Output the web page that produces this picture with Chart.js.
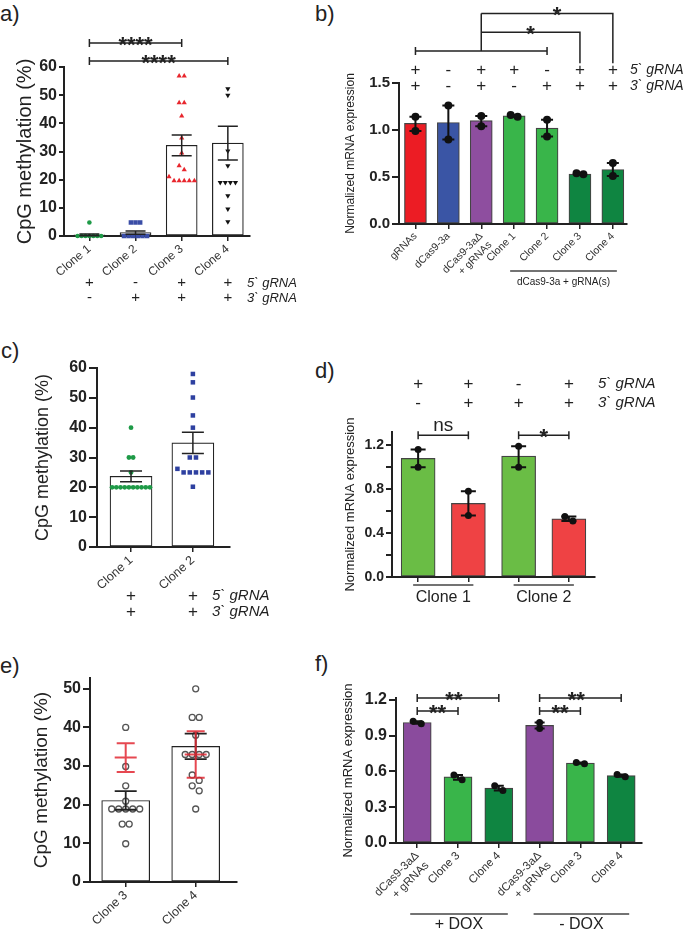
<!DOCTYPE html>
<html>
<head>
<meta charset="utf-8">
<script src="https://cdn.jsdelivr.net/npm/chart.js@4.4.1/dist/chart.umd.min.js"></script>
<style>
  html, body { margin: 0; padding: 0; background: #fff; }
  body { width: 683px; height: 933px; position: relative; overflow: hidden; font-family: "Liberation Sans", Arial, sans-serif; }
  canvas { position: absolute; }
  .tag { position: absolute; font-size: 22px; line-height: 22px; color: #222; }
</style>
</head>
<body>
<div class="tag" style="left:0px;top:3px">a)</div>
<div class="tag" style="left:315px;top:3px">b)</div>
<div class="tag" style="left:1px;top:340px">c)</div>
<div class="tag" style="left:315px;top:360px">d)</div>
<div class="tag" style="left:0px;top:655px">e)</div>
<div class="tag" style="left:315px;top:653px">f)</div>

<canvas id="chartA" width="315" height="310" style="left:0px;top:0px"></canvas>
<canvas id="chartB" width="343" height="310" style="left:340px;top:0px"></canvas>
<canvas id="chartC" width="315" height="310" style="left:0px;top:310px"></canvas>
<canvas id="chartD" width="343" height="310" style="left:340px;top:310px"></canvas>
<canvas id="chartE" width="315" height="313" style="left:0px;top:620px"></canvas>
<canvas id="chartF" width="343" height="313" style="left:340px;top:620px"></canvas>

<script>
const FONT = '"Liberation Sans", Arial, sans-serif';
Chart.defaults.font.family = FONT;
Chart.defaults.color = '#222';

// ---- panel a: CpG methylation, clones 1-4 ----
const aLabels = ['Clone 1', 'Clone 2', 'Clone 3', 'Clone 4'];
const aMeans = [0.4, 1.2, 32.2, 33.0];
const aSem = [0.3, 0.6, 3.7, 6.0];
const aClone1 = [4.8, 0, 0, 0, 0, 0, 0, 0];
const aClone2 = [4.8, 4.8, 4.8, 0, 0, 0, 0, 0, 0];
const aClone3 = [56.8, 56.8, 47.3, 47.3, 42.6, 34.8, 29.5, 24.9, 23.5, 21.0, 19.6, 19.6, 19.6, 19.6, 19.6];
const aClone4 = [52.3, 50.0, 30.2, 24.9, 19.0, 19.0, 19.0, 19.0, 14.3, 9.6, 5.1];
const a5gRNA = ['+', '-', '+', '+'];
const a3gRNA = ['-', '+', '+', '+'];

// ---- panel b: normalized mRNA expression ----
const bLabels = ['gRNAs', 'dCas9-3a', ['dCas9-3aΔ', '+ gRNAs'], 'Clone 1', 'Clone 2', 'Clone 3', 'Clone 4'];
const bMeans = [1.07, 1.08, 1.10, 1.15, 1.02, 0.53, 0.58];
const bRep1 = [1.14, 1.26, 1.15, 1.14, 1.11, 0.53, 0.65];
const bRep2 = [0.99, 0.90, 1.04, 1.16, 0.93, 0.54, 0.51];
const b5gRNA = ['+', '-', '+', '+', '-', '+', '+'];
const b3gRNA = ['+', '-', '+', '-', '+', '+', '+'];

// ---- panel c: CpG methylation, clones 1-2 ----
const cLabels = ['Clone 1', 'Clone 2'];
const cMeans = [23.7, 34.9];
const cSem = [1.8, 3.6];
const cClone1 = [40, 30, 30, 25, 20, 20, 20, 20, 20, 20, 20, 20, 20, 20];
const cClone2 = [58, 55.2, 50.1, 44.1, 40, 30, 30, 26.2, 25, 25, 25, 25, 25, 20.2];
const c5gRNA = ['+', '+'];
const c3gRNA = ['+', '+'];

// ---- panel d: normalized mRNA expression, clones 1-2 ----
const dLabels = ['', '', '', ''];
const dMeans = [1.08, 0.67, 1.10, 0.53];
const dRep1 = [1.16, 0.78, 1.19, 0.55];
const dRep2 = [1.00, 0.56, 1.00, 0.51];
const d5gRNA = ['+', '+', '-', '+'];
const d3gRNA = ['-', '+', '+', '+'];

// ---- panel e: CpG methylation, clones 3-4 ----
const eLabels = ['Clone 3', 'Clone 4'];
const eMeans = [21.1, 35.1];
const eSem = [2.4, 3.3];
const eRefMeans = [32.2, 33.0];
const eRefSem = [3.7, 6.0];
const eClone3 = [40, 29.9, 24.9, 20.9, 18.9, 18.9, 18.9, 18.9, 18.9, 15, 15, 9.9];
const eClone4 = [50, 42.6, 42.6, 38, 33, 33, 33, 33, 27.7, 26.3, 24.9, 23.6, 18.9];

// ---- panel f: expression with / without DOX ----
const fLabels = [['dCas9-3aΔ', '+ gRNAs'], 'Clone 3', 'Clone 4', ['dCas9-3aΔ', '+ gRNAs'], 'Clone 3', 'Clone 4'];
const fMeans = [1.01, 0.555, 0.46, 0.985, 0.67, 0.565];
const fRep1 = [1.02, 0.57, 0.48, 1.01, 0.675, 0.575];
const fRep2 = [1.00, 0.53, 0.44, 0.96, 0.665, 0.555];

const gRNANames = ['5` gRNA', '3` gRNA'];

/**
 * Place equal-ish values side by side around a category centre
 */
function spread(values, center, step, tol) {
    const sorted = [...values].sort((p, q) => q - p);
    const groups = [];
    sorted.forEach(v => {
        const g = groups[groups.length - 1];
        if (g && g[0] - v <= tol) g.push(v); else groups.push([v]);
    });
    const pts = [];
    groups.forEach(g => g.forEach((v, k) => pts.push({ x: center + (k - (g.length - 1) / 2) * step, y: v })));
    return pts;
}

function bars(means, colors, border, thickness) {
    return {
        type: 'bar',
        data: means.map((m, i) => ({ x: i, y: m })),
        backgroundColor: colors,
        borderColor: border,
        borderWidth: 1.2,
        borderSkipped: false,
        barThickness: thickness,
        order: 2
    };
}

function dots(points, style) {
    return Object.assign({
        type: 'scatter',
        data: points,
        clip: false,
        order: 1,
        pointBorderWidth: 0
    }, style);
}

function pairDots(rep1, rep2, step, tol, radius) {
    const pts = [];
    rep1.forEach((v, i) => pts.push(...spread([v, rep2[i]], i, step, tol)));
    return dots(pts, { pointStyle: 'circle', pointRadius: radius, pointBackgroundColor: '#111', pointBorderColor: '#111' });
}

// draws error bars, significance brackets, gRNA sign rows and group labels
const panelExtras = {
    id: 'panelExtras',
    afterDatasetsDraw(chart, args, opts) {
        const ctx = chart.ctx, xs = chart.scales.x, ys = chart.scales.y;
        (opts.errors || []).forEach(e => {
            ctx.save();
            ctx.strokeStyle = e.color;
            ctx.lineWidth = e.width;
            e.lo.forEach((lo, i) => {
                const x = xs.getPixelForValue(i);
                const yl = ys.getPixelForValue(lo), yh = ys.getPixelForValue(e.hi[i]);
                ctx.beginPath();
                ctx.moveTo(x, yl); ctx.lineTo(x, yh);
                ctx.moveTo(x - e.cap / 2, yl); ctx.lineTo(x + e.cap / 2, yl);
                ctx.moveTo(x - e.cap / 2, yh); ctx.lineTo(x + e.cap / 2, yh);
                if (e.mid) {
                    const ym = ys.getPixelForValue(e.mid[i]);
                    ctx.moveTo(x - e.midW / 2, ym); ctx.lineTo(x + e.midW / 2, ym);
                }
                ctx.stroke();
            });
            ctx.restore();
        });
    },
    afterDraw(chart, args, opts) {
        const ctx = chart.ctx, xs = chart.scales.x, ys = chart.scales.y, area = chart.chartArea;
        ctx.save();
        ctx.strokeStyle = '#222';
        ctx.fillStyle = '#222';
        ctx.lineWidth = 1.5;

        (opts.brackets || []).forEach(b => {
            const x1 = xs.getPixelForValue(b.from), x2 = xs.getPixelForValue(b.to), y = ys.getPixelForValue(b.at);
            ctx.beginPath();
            ctx.moveTo(x1, y); ctx.lineTo(x2, y);
            ctx.moveTo(x1, y - 4); ctx.lineTo(x1, y + 4);
            ctx.moveTo(x2, y - 4); ctx.lineTo(x2, y + 4);
            ctx.stroke();
        });

        (opts.paths || []).forEach(p => {
            ctx.beginPath();
            p.forEach(([xv, yv], k) => {
                const px = xs.getPixelForValue(xv), py = ys.getPixelForValue(yv);
                if (k === 0) ctx.moveTo(px, py); else ctx.lineTo(px, py);
            });
            ctx.stroke();
        });

        (opts.notes || []).forEach(n => {
            ctx.font = n.font;
            ctx.letterSpacing = n.spacing || '0px';
            ctx.textAlign = 'center';
            ctx.textBaseline = 'alphabetic';
            ctx.fillText(n.text, xs.getPixelForValue(n.x), ys.getPixelForValue(n.y) + n.dy);
        });
        ctx.letterSpacing = '0px';

        if (opts.signs) {
            const s = opts.signs;
            const base = s.anchor === 'top' ? area.top : area.bottom;
            ctx.textBaseline = 'middle';
            s.rows.forEach((row, r) => {
                const y = base + s.dy[r];
                ctx.font = s.font;
                ctx.textAlign = 'center';
                row.forEach((t, i) => ctx.fillText(t, xs.getPixelForValue(i), y));
                ctx.font = s.nameFont;
                ctx.textAlign = 'left';
                ctx.fillText(gRNANames[r], area.right + s.nameDx, y);
            });
        }

        (opts.groups || []).forEach(g => {
            const x1 = xs.getPixelForValue(g.from) - g.ext[0], x2 = xs.getPixelForValue(g.to) + g.ext[1];
            const y = area.bottom + g.lineDy;
            ctx.strokeStyle = '#444';
            ctx.lineWidth = 1.5;
            ctx.beginPath(); ctx.moveTo(x1, y); ctx.lineTo(x2, y); ctx.stroke();
            ctx.font = g.font;
            ctx.textAlign = 'center';
            ctx.textBaseline = 'middle';
            ctx.fillText(g.text, (x1 + x2) / 2, area.bottom + g.textDy);
        });
        ctx.restore();
    }
};

/**
 * Build one panel; area = wanted chart area inside the canvas
 */
function panel(id, o) {
    const canvas = document.getElementById(id);
    const w = canvas.width, h = canvas.height, a = o.area;
    return new Chart(canvas, {
        type: 'bar',
        data: { datasets: o.datasets },
        options: {
            responsive: false,
            animation: false,
            events: [],
            layout: { padding: { left: 0, top: a.t, right: w - a.r, bottom: h - a.b - o.xHeight } },
            plugins: { legend: { display: false }, tooltip: { enabled: false }, panelExtras: o.extras },
            scales: {
                x: {
                    type: 'linear', offset: false, min: o.xMin, max: o.xMax,
                    afterBuildTicks: ax => { ax.ticks = o.labels.map((_, i) => ({ value: i })); },
                    afterFit: ax => { ax.height = o.xHeight; },
                    grid: { offset: false, drawOnChartArea: false, tickLength: 5, color: '#222', lineWidth: 1.5 },
                    border: { color: '#222', width: 2 },
                    ticks: {
                        autoSkip: false, minRotation: o.rot, maxRotation: o.rot, padding: 1,
                        color: '#333', font: o.xFont, callback: v => o.labels[v]
                    }
                },
                y: {
                    min: 0, max: o.yMax,
                    afterBuildTicks: ax => { ax.ticks = o.yTicks.map(v => ({ value: v })); },
                    afterFit: ax => { ax.width = a.l; },
                    grid: { drawOnChartArea: false, tickLength: o.yTick, color: '#222', lineWidth: 2 },
                    border: { color: '#222', width: 2 },
                    ticks: { padding: 2, color: '#222', font: o.yFont, callback: o.yFmt },
                    title: {
                        display: true, text: o.yTitle, color: '#222', font: o.titleFont,
                        padding: { top: o.titlePad, bottom: 0 }
                    }
                }
            }
        },
        plugins: [panelExtras]
    });
}

const lo = (m, s) => m.map((v, i) => v - s[i]);
const hi = (m, s) => m.map((v, i) => v + s[i]);
const rmin = (p, q) => p.map((v, i) => Math.min(v, q[i]));
const rmax = (p, q) => p.map((v, i) => Math.max(v, q[i]));
const stars = { font: 'bold 22px ' + FONT };
const intFmt = v => String(v);
const oneDec = v => v.toFixed(1);

// a)
panel('chartA', {
    area: { l: 64, t: 67, r: 250, b: 236 }, xHeight: 50,
    xMin: -0.55, xMax: 3.48, labels: aLabels, rot: 40,
    xFont: { size: 12 }, yFont: { size: 16, weight: 'bold' }, yTick: 5,
    yMax: 60, yTicks: [0, 10, 20, 30, 40, 50, 60], yFmt: intFmt,
    yTitle: 'CpG methylation (%)', titleFont: { size: 20 }, titlePad: 13,
    datasets: [
        bars(aMeans, '#fff', '#222', 31),
        dots(spread(aClone1, 0, 0.085, 1.5), { pointStyle: 'circle', pointRadius: 2.3, pointBackgroundColor: '#1E9A47', pointBorderColor: '#1E9A47' }),
        dots(spread(aClone2, 1, 0.1, 1.5), { pointStyle: 'rect', pointRadius: 3.2, pointBackgroundColor: '#3A4DA6', pointBorderColor: '#3A4DA6' }),
        dots(spread(aClone3, 2, 0.11, 1.5), { pointStyle: 'triangle', pointRadius: 3, pointBackgroundColor: '#E8262D', pointBorderColor: '#E8262D' }),
        dots(spread(aClone4, 3, 0.11, 1.5), { pointStyle: 'triangle', pointRotation: 180, pointRadius: 3, pointBackgroundColor: '#111', pointBorderColor: '#111' })
    ],
    extras: {
        errors: [{ lo: lo(aMeans, aSem), hi: hi(aMeans, aSem), cap: 20, color: '#222', width: 1.5 }],
        brackets: [{ from: 0, to: 2, at: 68.5 }, { from: 0, to: 3, at: 62.1 }],
        notes: [
            Object.assign({ text: '****', x: 1, y: 68.5, dy: 9 }, stars),
            Object.assign({ text: '****', x: 1.5, y: 62.1, dy: 9 }, stars)
        ],
        signs: { rows: [a5gRNA, a3gRNA], anchor: 'bottom', dy: [47, 62], font: '15px ' + FONT, nameFont: 'italic 13px ' + FONT, nameDx: -3 }
    }
});

// b)
panel('chartB', {
    area: { l: 59, t: 83, r: 287, b: 224 }, xHeight: 50,
    xMin: -0.5, xMax: 6.43, labels: bLabels, rot: 45,
    xFont: { size: 10.5 }, yFont: { size: 15, weight: 'bold' }, yTick: 7,
    yMax: 1.5, yTicks: [0, 0.5, 1.0, 1.5], yFmt: oneDec,
    yTitle: 'Normalized mRNA expression', titleFont: { size: 12 }, titlePad: 3,
    datasets: [
        bars(bMeans, ['#EC1C24', '#3A55A5', '#8E4E9F', '#39B54A', '#39B54A', '#0F8541', '#0F8541'], '#444', 22),
        pairDots(bRep1, bRep2, 0.21, 0.05, 4)
    ],
    extras: {
        errors: [{ lo: rmin(bRep1, bRep2), hi: rmax(bRep1, bRep2), cap: 12, color: '#111', width: 2 }],
        brackets: [{ from: 0, to: 4, at: 1.84 }],
        paths: [
            [[2, 1.84], [2, 2.24]],
            [[2, 2.04], [5, 2.04], [5, 1.71]],
            [[2, 2.24], [6, 2.24], [6, 1.71]]
        ],
        notes: [
            Object.assign({ text: '*', x: 3.5, y: 2.04, dy: 9 }, stars),
            Object.assign({ text: '*', x: 4.3, y: 2.24, dy: 9 }, stars)
        ],
        signs: { rows: [b5gRNA, b3gRNA], anchor: 'top', dy: [-13, 3], font: '17px ' + FONT, nameFont: 'italic 14px ' + FONT, nameDx: 3 },
        groups: [{ from: 3, to: 6, ext: [4, 4], lineDy: 47, textDy: 58, text: 'dCas9-3a + gRNA(s)', font: '10px ' + FONT }]
    }
});

// c)
panel('chartC', {
    area: { l: 97, t: 58, r: 230, b: 237 }, xHeight: 50,
    xMin: -0.55, xMax: 1.6, labels: cLabels, rot: 42,
    xFont: { size: 12.5 }, yFont: { size: 16, weight: 'bold' }, yTick: 8,
    yMax: 60, yTicks: [0, 10, 20, 30, 40, 50, 60], yFmt: intFmt,
    yTitle: 'CpG methylation (%)', titleFont: { size: 18 }, titlePad: 32,
    datasets: [
        bars(cMeans, '#fff', '#222', 42),
        dots(spread(cClone1, 0, 0.068, 1.5), { pointStyle: 'circle', pointRadius: 2.4, pointBackgroundColor: '#1E9A47', pointBorderColor: '#1E9A47' }),
        dots(spread(cClone2, 1, 0.1, 1.5), { pointStyle: 'rect', pointRadius: 3.2, pointBackgroundColor: '#2E40A0', pointBorderColor: '#2E40A0' })
    ],
    extras: {
        errors: [{ lo: lo(cMeans, cSem), hi: hi(cMeans, cSem), cap: 22, color: '#222', width: 1.5 }],
        signs: { rows: [c5gRNA, c3gRNA], anchor: 'bottom', dy: [49, 65], font: '17px ' + FONT, nameFont: 'italic 15px ' + FONT, nameDx: -18 }
    }
});

// d)
panel('chartD', {
    area: { l: 52, t: 122, r: 255, b: 267 }, xHeight: 20,
    xMin: -0.52, xMax: 3.52, labels: dLabels, rot: 0,
    xFont: { size: 10 }, yFont: { size: 14, weight: 'bold' }, yTick: 6,
    yMax: 1.32, yTicks: [0, 0.2, 0.4, 0.6, 0.8, 1.0, 1.2],
    yFmt: v => (Math.round(v * 10) % 4 === 0 ? v.toFixed(1) : ''),
    yTitle: 'Normalized mRNA expression', titleFont: { size: 13 }, titlePad: 3,
    datasets: [
        bars(dMeans, ['#6ABD45', '#EF4244', '#6ABD45', '#EF4244'], '#444', 34),
        pairDots(dRep1, dRep2, 0.16, 0.05, 3.5)
    ],
    extras: {
        errors: [{ lo: rmin(dRep1, dRep2), hi: rmax(dRep1, dRep2), cap: 15, color: '#111', width: 2 }],
        brackets: [{ from: 0, to: 1, at: 1.29 }, { from: 2, to: 3, at: 1.29 }],
        notes: [
            { text: 'ns', x: 0.5, y: 1.29, dy: -4, font: '19px ' + FONT },
            Object.assign({ text: '*', x: 2.5, y: 1.29, dy: 9 }, stars)
        ],
        signs: { rows: [d5gRNA, d3gRNA], anchor: 'top', dy: [-48, -29], font: '17px ' + FONT, nameFont: 'italic 15px ' + FONT, nameDx: 3 },
        groups: [
            { from: 0, to: 1, ext: [5, 5], lineDy: 8, textDy: 21, text: 'Clone 1', font: '16px ' + FONT },
            { from: 2, to: 3, ext: [5, 5], lineDy: 8, textDy: 21, text: 'Clone 2', font: '16px ' + FONT }
        ]
    }
});

// e)
panel('chartE', {
    area: { l: 90, t: 58, r: 237, b: 262 }, xHeight: 45,
    xMin: -0.51, xMax: 1.59, labels: eLabels, rot: 43,
    xFont: { size: 12.5 }, yFont: { size: 16, weight: 'bold' }, yTick: 7,
    yMax: 52.8, yTicks: [0, 10, 20, 30, 40, 50], yFmt: intFmt,
    yTitle: 'CpG methylation (%)', titleFont: { size: 19 }, titlePad: 30,
    datasets: [
        bars(eMeans, '#fff', '#222', 48),
        dots(spread(eClone3, 0, 0.1, 1.5), { pointStyle: 'circle', pointRadius: 3, pointBorderWidth: 1.3, pointBackgroundColor: '#fff', pointBorderColor: '#555' }),
        dots(spread(eClone4, 1, 0.1, 1.5), { pointStyle: 'circle', pointRadius: 3, pointBorderWidth: 1.3, pointBackgroundColor: '#fff', pointBorderColor: '#555' })
    ],
    extras: {
        errors: [
            { lo: lo(eMeans, eSem), hi: hi(eMeans, eSem), cap: 22, color: '#222', width: 1.8 },
            { lo: lo(eRefMeans, eRefSem), hi: hi(eRefMeans, eRefSem), mid: eRefMeans, midW: 22, cap: 18, color: 'rgba(226,40,50,0.85)', width: 2 }
        ]
    }
});

// f)
panel('chartF', {
    area: { l: 56, t: 78, r: 302, b: 223 }, xHeight: 60,
    xMin: -0.52, xMax: 5.51, labels: fLabels, rot: 45,
    xFont: { size: 11.5 }, yFont: { size: 16, weight: 'bold' }, yTick: 7,
    yMax: 1.215, yTicks: [0, 0.3, 0.6, 0.9, 1.2], yFmt: oneDec,
    yTitle: 'Normalized mRNA expression', titleFont: { size: 13 }, titlePad: 1,
    datasets: [
        bars(fMeans, ['#8A4B9D', '#39B54A', '#0F8541', '#8A4B9D', '#39B54A', '#0F8541'], '#444', 28),
        pairDots(fRep1, fRep2, 0.2, 0.05, 3.5)
    ],
    extras: {
        errors: [{ lo: rmin(fRep1, fRep2), hi: rmax(fRep1, fRep2), cap: 10, color: '#111', width: 2 }],
        brackets: [
            { from: 0, to: 1, at: 1.107 }, { from: 0, to: 2, at: 1.216 },
            { from: 3, to: 4, at: 1.107 }, { from: 3, to: 5, at: 1.216 }
        ],
        notes: [
            Object.assign({ text: '**', x: 0.5, y: 1.107, dy: 9 }, stars),
            Object.assign({ text: '**', x: 0.9, y: 1.216, dy: 9 }, stars),
            Object.assign({ text: '**', x: 3.5, y: 1.107, dy: 9 }, stars),
            Object.assign({ text: '**', x: 3.9, y: 1.216, dy: 9 }, stars)
        ],
        groups: [
            { from: 0, to: 2, ext: [7, 9], lineDy: 71, textDy: 82, text: '+ DOX', font: '16px ' + FONT },
            { from: 3, to: 5, ext: [6, 8], lineDy: 71, textDy: 82, text: '- DOX', font: '16px ' + FONT }
        ]
    }
});
</script>
</body>
</html>
